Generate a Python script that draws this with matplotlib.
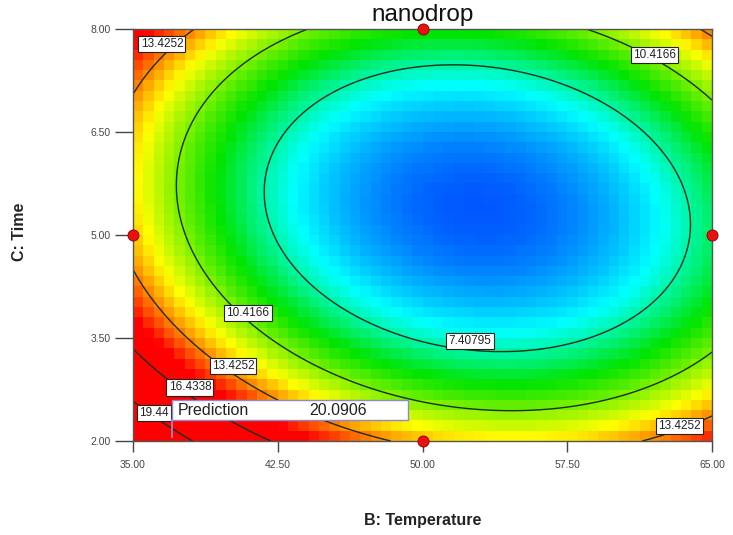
import numpy as np
import matplotlib
matplotlib.use("Agg")
import matplotlib.pyplot as plt
from matplotlib.colors import LinearSegmentedColormap
from matplotlib.patches import Rectangle

plt.rcParams["font.family"] = ["Liberation Sans", "DejaVu Sans"]

# factor ranges (B: Temperature, C: Time)
temp_range = [35.0, 65.0]
time_range = [2.0, 8.0]
temp_ticks = [35.0, 42.5, 50.0, 57.5, 65.0]
time_ticks = [2.0, 3.5, 5.0, 6.5, 8.0]

# nanodrop model in coded factors: const, B, C, BC, B^2, C^2
model_coef = [4.7244, -2.3194, -1.9024, 1.3560, 5.6583, 6.3285]

contour_levels = [7.40795, 10.4166, 13.4252, 16.4338, 19.4424]

# design points on the edges of the B-C face
design_temp = [50.0, 35.0, 65.0, 50.0]
design_time = [8.0, 5.0, 5.0, 2.0]

# flagged prediction
pred_temp = 37.0
pred_time = 2.06
pred_value = 20.0906

# colour stops along the response
color_stops = [3.2, 6.6, 8.9, 12.0, 15.0]
color_list = ["#0000ff", "#00ffff", "#00e400", "#ffff00", "#ff0000"]


def response(temp, time):
    u = (temp - 50.0) / 15.0
    v = (time - 5.0) / 3.0
    b0, b1, b2, b12, b11, b22 = model_coef
    return b0 + b1 * u + b2 * v + b12 * u * v + b11 * u ** 2 + b22 * v ** 2


lo, hi = color_stops[0], color_stops[-1]
cmap = LinearSegmentedColormap.from_list(
    "de", [((s - lo) / (hi - lo), c) for s, c in zip(color_stops, color_list)])

fig = plt.figure(figsize=(7.33, 5.35), dpi=100)
ax = fig.add_axes([0.1814, 0.1757, 0.79, 0.7701])

# blocky shading on a coarse grid
nx, ny = 56, 40
xe = np.linspace(*temp_range, nx + 1)
ye = np.linspace(*time_range, ny + 1)
xc = (xe[:-1] + xe[1:]) / 2
yc = (ye[:-1] + ye[1:]) / 2
XC, YC = np.meshgrid(xc, yc)
ax.pcolormesh(xe, ye, response(XC, YC), cmap=cmap, vmin=lo, vmax=hi,
              shading="flat", rasterized=True)

# smooth contour lines
xf = np.linspace(*temp_range, 400)
yf = np.linspace(*time_range, 400)
XF, YF = np.meshgrid(xf, yf)
ax.contour(XF, YF, response(XF, YF), levels=contour_levels,
           colors="#1a2e1c", linewidths=1.0)

# contour labels (the 19.4424 one is cut short by the prediction box)
label_spots = [(36.5, 7.78, "13.4252"), (62.0, 7.62, "10.4166"),
               (40.96, 3.86, "10.4166"), (52.46, 3.46, "7.40795"),
               (40.18, 3.09, "13.4252"), (37.95, 2.78, "16.4338"),
               (36.1, 2.41, "19.44"), (63.3, 2.22, "13.4252")]
for lx, ly, lt in label_spots:
    ax.text(lx, ly, lt, fontsize=8.5, ha="center", va="center",
            color="#222222", zorder=5,
            bbox=dict(boxstyle="square,pad=0.18", fc="white", ec="#222222", lw=0.8))

# prediction flag
ax.plot([pred_temp, pred_temp], [pred_time, 2.30], color="#9a8fd8", lw=1.2, zorder=6)
ax.add_patch(Rectangle((pred_temp, 2.30), 12.25, 0.29, fc="white",
                       ec="#8a8ad0", lw=1.0, zorder=7))
ax.text(pred_temp + 0.3, 2.445, "Prediction", fontsize=11.5, va="center",
        color="#222222", zorder=8)
ax.text(44.15, 2.445, f"{pred_value:.4f}", fontsize=11.5, va="center",
        color="#222222", zorder=8)

# design points
ax.plot(design_temp, design_time, "o", ms=8, mfc="#e81010", mec="#8b0000",
        mew=0.6, clip_on=False, zorder=9)

ax.set_xlim(*temp_range)
ax.set_ylim(*time_range)
ax.set_xticks(temp_ticks)
ax.set_yticks(time_ticks)
ax.set_xticklabels([f"{t:.2f}" for t in temp_ticks])
ax.set_yticklabels([f"{t:.2f}" for t in time_ticks])
ax.tick_params(axis="x", length=8, width=1, pad=6, labelsize=7.5, colors="#444444")
ax.tick_params(axis="y", length=13, width=1, pad=3, labelsize=7.5, colors="#444444")
for sp in ax.spines.values():
    sp.set_color("#555555")
    sp.set_linewidth(1.0)

ax.set_title("nanodrop", fontsize=17.5, pad=6, color="#111111")
fig.text(0.576, 0.028, "B: Temperature", fontsize=11.5, fontweight="bold",
         ha="center", va="center", color="#222222")
fig.text(0.027, 0.567, "C: Time", fontsize=11.5, fontweight="bold",
         ha="center", va="center", rotation=90, color="#222222")

fig.savefig("out.png", dpi=100)
